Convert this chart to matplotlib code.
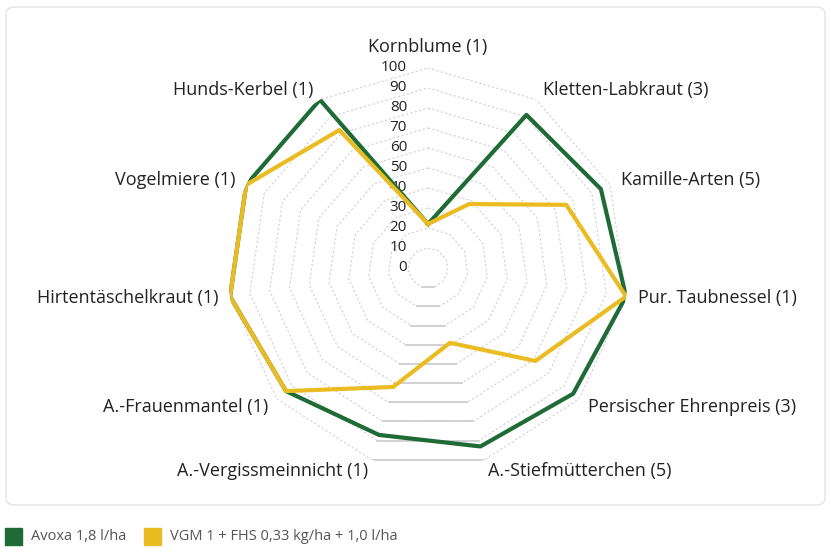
import matplotlib.pyplot as plt
import numpy as np
from matplotlib.patches import FancyBboxPatch, Rectangle

plt.rcParams['font.family'] = ['Open Sans', 'DejaVu Sans']

# Daten
kategorien = ["Kornblume (1)", "Kletten-Labkraut (3)", "Kamille-Arten (5)",
              "Pur. Taubnessel (1)", "Persischer Ehrenpreis (3)",
              "A.-Stiefmütterchen (5)", "A.-Vergissmeinnicht (1)",
              "A.-Frauenmantel (1)", "Hirtentäschelkraut (1)",
              "Vogelmiere (1)", "Hunds-Kerbel (1)"]
avoxa = [22, 91, 95, 100, 96, 93, 87, 94, 100, 100, 100]
vgm = [22, 38, 76, 100, 71, 39, 62, 94, 100, 100, 82]
serien = ["Avoxa 1,8 l/ha", "VGM 1 + FHS 0,33 kg/ha + 1,0 l/ha"]
farben = ["#1f6b36", "#ebbb22"]
ticks = list(range(0, 101, 10))

n = len(kategorien)
theta = np.linspace(0, 2 * np.pi, n, endpoint=False)
theta_c = np.append(theta, theta[0])

fig = plt.figure(figsize=(8.31, 5.55), dpi=100)
fig.patches.append(FancyBboxPatch((6 / 831, 50 / 555), 819 / 831, 498 / 555,
                                  boxstyle="round,pad=0,rounding_size=0.012",
                                  transform=fig.transFigure, fill=False,
                                  edgecolor="#e3e3e3", linewidth=1))

ax = fig.add_axes([0.2744, 0.1568, 0.4814, 0.7207], projection="polar")
ax.set_theta_zero_location("N")
ax.set_theta_direction(-1)
ax.set_ylim(0, 100)
ax.grid(False)
ax.spines["polar"].set_visible(False)
ax.set_xticks([])
ax.set_yticks([])
ax.patch.set_alpha(0)

# Gitternetz
for r in ticks[1:]:
    ax.plot(theta_c, [r] * (n + 1), color="#d0d0d0", lw=0.8,
            linestyle=(0, (2, 2)), zorder=1)
    ax.plot(theta[5:7], [r, r], color="#cfcfcf", lw=1.3, zorder=1)

for t in ticks:
    ax.annotate(str(t), xy=(0, t), xytext=(-21, 0), textcoords="offset pixels",
                ha="right", va="center", fontsize=11, color="#222222")

# Serien
for werte, farbe, name in zip([avoxa, vgm], farben, serien):
    ax.plot(theta_c, werte + werte[:1], color=farbe, lw=3, label=name, zorder=3)

# Beschriftungen
for th, lab in zip(theta, kategorien):
    s, c = np.sin(th), np.cos(th)
    if abs(s) < 0.1:
        ha = "center"
    elif s > 0:
        ha = "left"
    else:
        ha = "right"
    va = "bottom" if c > 0.99 else "center"
    ax.annotate(lab, xy=(th, 100), xytext=(12 * s, 12 * c), textcoords="offset pixels",
                ha=ha, va=va, fontsize=13, color="#222222")

# Legende
x = 5
for farbe, name in zip(farben, serien):
    fig.patches.append(Rectangle((x / 831, 10 / 555), 17 / 831, 17 / 555,
                                 transform=fig.transFigure, color=farbe))
    t = fig.text((x + 26) / 831, 18.5 / 555, name, fontsize=10.5, color="#555555",
                 va="center", ha="left")
    x = 144

fig.savefig("out.png", dpi=100)
